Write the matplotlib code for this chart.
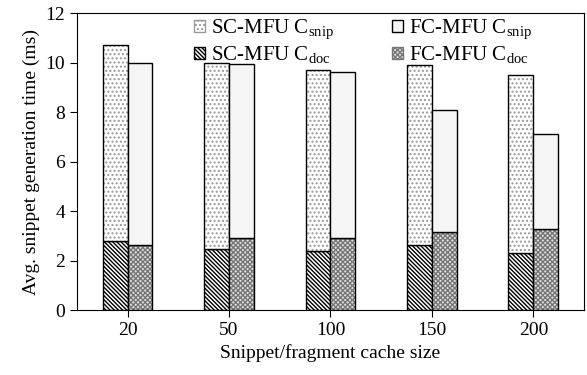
import matplotlib
matplotlib.use("Agg")
import matplotlib.pyplot as plt
import numpy as np
from matplotlib.patches import Patch

plt.rcParams['font.family'] = 'Liberation Serif'
plt.rcParams['mathtext.fontset'] = 'custom'
plt.rcParams['mathtext.rm'] = 'Liberation Serif'
plt.rcParams['hatch.linewidth'] = 1.0

cache_sizes = ['20', '50', '100', '150', '200']
# total generation time (top of stacked bar) and C_doc part
sc_total = [10.7, 10.0, 9.72, 9.9, 9.5]
sc_doc = [2.8, 2.45, 2.38, 2.65, 2.32]
fc_total = [10.0, 9.95, 9.64, 8.07, 7.1]
fc_doc = [2.65, 2.92, 2.9, 3.14, 3.26]

x = np.arange(len(cache_sizes))
w = 0.245
sc_snip = np.array(sc_total) - np.array(sc_doc)
fc_snip = np.array(fc_total) - np.array(fc_doc)

fig, ax = plt.subplots(figsize=(5.87, 3.75), dpi=100)

diag = '\\' * 8
dots = '....'
cross = 'xxxxxxx'

def hbar(xpos, h, bottom, face, hatch, hcol):
    # hatch layer + outline layer, so hatch colour can differ from edge
    ax.bar(xpos, h, w, bottom=bottom, color=face, hatch=hatch,
           edgecolor=hcol, linewidth=0, align='edge')
    ax.bar(xpos, h, w, bottom=bottom, fill=False, edgecolor='black',
           linewidth=1.0, align='edge')

hbar(x - w, sc_doc, 0, 'white', diag, 'black')
hbar(x - w, sc_snip, sc_doc, 'white', dots, '#999999')
hbar(x, fc_doc, 0, '#e0e0e0', cross, '#777777')
hbar(x, fc_snip, fc_doc, '#f5f5f5', None, '#f5f5f5')

ax.set_xlim(-0.5, 4.5)
ax.set_ylim(0, 12)
ax.set_yticks(range(0, 13, 2))
ax.set_xticks(x)
ax.set_xticklabels(cache_sizes)
ax.tick_params(labelsize=14, direction='out', length=5)
ax.set_xlabel('Snippet/fragment cache size', fontsize=14)
ax.set_ylabel('Avg. snippet generation time (ms)', fontsize=14)

handles = [
    Patch(facecolor='white', edgecolor='#999999', hatch=dots, label=r'SC-MFU C$_{\mathrm{snip}}$'),
    Patch(facecolor='white', edgecolor='black', hatch=diag, label=r'SC-MFU C$_{\mathrm{doc}}$'),
    Patch(facecolor='#f5f5f5', edgecolor='black', label=r'FC-MFU C$_{\mathrm{snip}}$'),
    Patch(facecolor='#e0e0e0', edgecolor='#777777', hatch=cross, label=r'FC-MFU C$_{\mathrm{doc}}$'),
]
ax.legend(handles=handles, ncol=2, frameon=False, fontsize=15,
          loc='upper left', bbox_to_anchor=(0.330, 0.952),
          bbox_transform=fig.transFigure,
          handlelength=0.55, handleheight=0.55, handletextpad=0.3,
          columnspacing=2.75, labelspacing=0.1, borderpad=0, borderaxespad=0)

plt.subplots_adjust(left=0.131, right=0.995, top=0.965, bottom=0.173)
plt.savefig('out.png', dpi=100)
